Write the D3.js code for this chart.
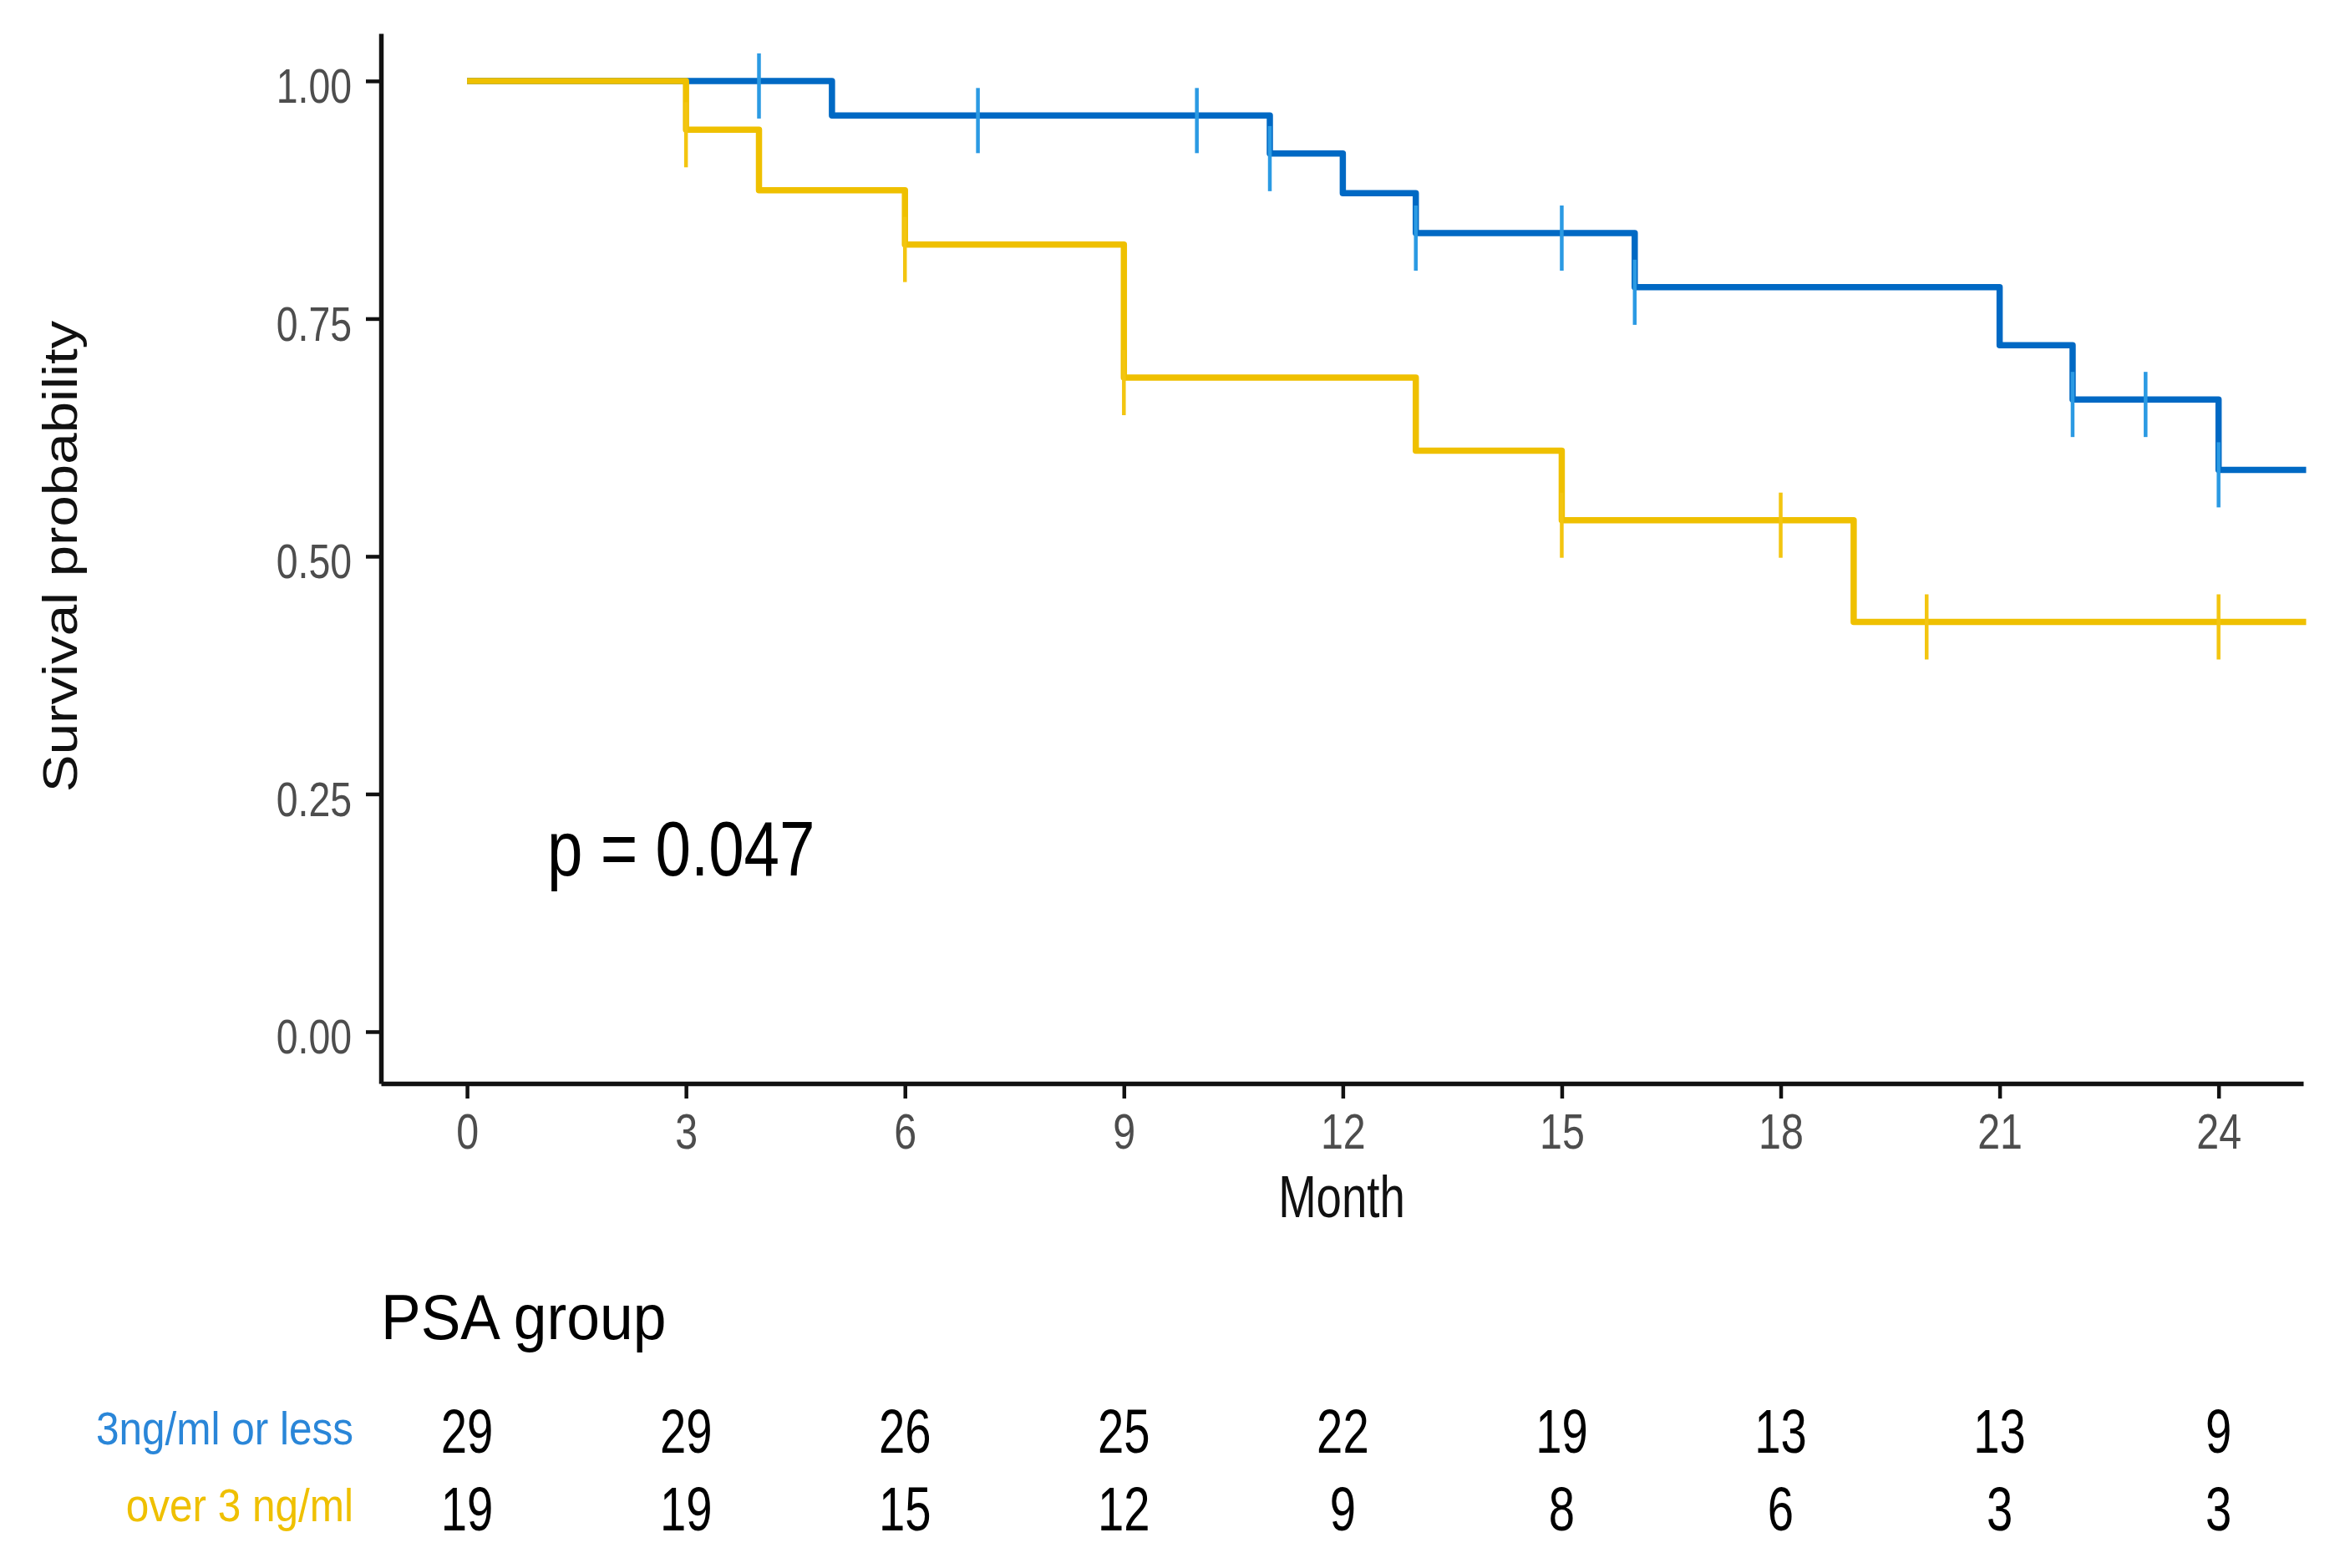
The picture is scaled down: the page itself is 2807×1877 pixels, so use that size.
<!DOCTYPE html>
<html>
<head>
<meta charset="utf-8">
<script src="https://cdn.jsdelivr.net/npm/d3@7"></script>
<style>
  body { margin: 0; background: #fff; }
  text { font-family: "Liberation Sans", Arial, sans-serif; }
</style>
</head>
<body>
<div id="chart"></div>
<script>
// survival curves
var blueTimes = [0, 5, 11, 12, 13, 16, 21, 22, 24, 25.2];
var blueSurv = [1, 0.9636, 0.9236, 0.882, 0.840, 0.783, 0.722, 0.665, 0.591, 0.591];
var blueCensorT = [4, 7, 10, 11, 13, 15, 16, 22, 23, 24];

var yellowTimes = [0, 3, 4, 6, 9, 13, 15, 19, 25.2];
var yellowSurv = [1, 0.9487, 0.885, 0.828, 0.688, 0.611, 0.538, 0.431, 0.431];
var yellowCensorT = [3, 6, 9, 15, 18, 20, 24];

var xTicks = [0, 3, 6, 9, 12, 15, 18, 21, 24];
var yTicks = [0, 0.25, 0.5, 0.75, 1];

var groupNames = ['3ng/ml or less', 'over 3 ng/ml'];
var riskBlue = [29, 29, 26, 25, 22, 19, 13, 13, 9];
var riskYellow = [19, 19, 15, 12, 9, 8, 6, 3, 3];

var blueCol = '#0069C4', blueTick = '#2B9AE3', blueText = '#2A86D8';
var yellowCol = '#EFC000', yellowTick = '#F3C510';

var width = 2807, height = 1877;

var svg = d3.select('#chart')
    .append('svg')
    .attr('width', width)
    .attr('height', height);

var x = d3.scaleLinear().domain([-1.18, 25.16]).range([456, 2757]);
var y = d3.scaleLinear().domain([-0.0545, 1.05]).range([1297, 40]);

// step value at time t
function survAt(times, surv, t) {
    var v = surv[0];
    for (var i = 0; i < times.length; i++) {
        if (times[i] <= t) v = surv[i];
    }
    return v;
}

var line = d3.line()
    .x(d => x(d[0]))
    .y(d => y(d[1]))
    .curve(d3.curveStepAfter);

var curves = [
    { times: blueTimes, surv: blueSurv, cens: blueCensorT, col: blueCol, tick: blueTick },
    { times: yellowTimes, surv: yellowSurv, cens: yellowCensorT, col: yellowCol, tick: yellowTick }
];

curves.forEach(c => {
    svg.append('path')
        .datum(d3.zip(c.times, c.surv))
        .attr('fill', 'none')
        .attr('stroke', c.col)
        .attr('stroke-width', 7.5)
        .attr('stroke-linejoin', 'round')
        .attr('d', line);
});

curves.forEach(c => {
    svg.selectAll(null)
        .data(c.cens)
        .enter()
        .append('line')
        .attr('x1', d => x(d))
        .attr('x2', d => x(d))
        .attr('y1', d => y(survAt(c.times, c.surv, d)) - 33)
        .attr('y2', d => y(survAt(c.times, c.surv, d)) + 45)
        .attr('stroke', c.tick)
        .attr('stroke-width', 4.5);
});

// Add the X Axis
var xAxis = svg.append('g')
    .attr('transform', 'translate(0,1297)')
    .call(d3.axisBottom(x).tickValues(xTicks).tickSize(18).tickSizeOuter(0));
xAxis.select('.domain').attr('stroke', '#111').attr('stroke-width', 5.5);
xAxis.selectAll('.tick line').attr('stroke', '#111').attr('stroke-width', 4.5);
xAxis.selectAll('.tick text')
    .attr('y', null).attr('dy', null)
    .attr('transform', 'translate(0,78) scale(0.82,1)')
    .attr('font-size', 59)
    .attr('fill', '#4D4D4D');

// Add the Y Axis
var yAxis = svg.append('g')
    .attr('transform', 'translate(456,0)')
    .call(d3.axisLeft(y).tickValues(yTicks).tickFormat(d3.format('.2f')).tickSize(18).tickSizeOuter(0));
yAxis.select('.domain').attr('stroke', '#111').attr('stroke-width', 5.5);
yAxis.selectAll('.tick line').attr('stroke', '#111').attr('stroke-width', 4.5);
yAxis.selectAll('.tick text')
    .attr('x', null).attr('dy', null)
    .attr('transform', 'translate(-35,26) scale(0.8,1)')
    .attr('font-size', 58)
    .attr('fill', '#4D4D4D');

// axis titles
svg.append('text')
    .attr('transform', 'translate(92,666) rotate(-90) scale(1.18,1)')
    .attr('text-anchor', 'middle')
    .attr('font-size', 57)
    .attr('fill', '#111')
    .text('Survival probability');

svg.append('text')
    .attr('transform', 'translate(1606,1457) scale(0.78,1)')
    .attr('text-anchor', 'middle')
    .attr('font-size', 70)
    .attr('fill', '#111')
    .text('Month');

svg.append('text')
    .attr('transform', 'translate(655,1048) scale(0.83,1)')
    .attr('font-size', 92)
    .attr('fill', '#000')
    .text('p = 0.047');

// risk table
svg.append('text')
    .attr('transform', 'translate(456,1603) scale(0.94,1)')
    .attr('font-size', 76)
    .attr('fill', '#000')
    .text('PSA group');

var rows = [
    { name: groupNames[0], vals: riskBlue, col: blueText, base: 1739, lab: 1729 },
    { name: groupNames[1], vals: riskYellow, col: yellowCol, base: 1832, lab: 1821 }
];

rows.forEach(r => {
    svg.append('text')
        .attr('transform', `translate(423,${r.lab}) scale(0.9,1)`)
        .attr('text-anchor', 'end')
        .attr('font-size', 55)
        .attr('fill', r.col)
        .text(r.name);

    svg.selectAll(null)
        .data(r.vals)
        .enter()
        .append('text')
        .attr('transform', (d, i) => `translate(${x(xTicks[i])},${r.base}) scale(0.75,1)`)
        .attr('text-anchor', 'middle')
        .attr('font-size', 75)
        .attr('fill', '#000')
        .text(d => d);
});
</script>
</body>
</html>
